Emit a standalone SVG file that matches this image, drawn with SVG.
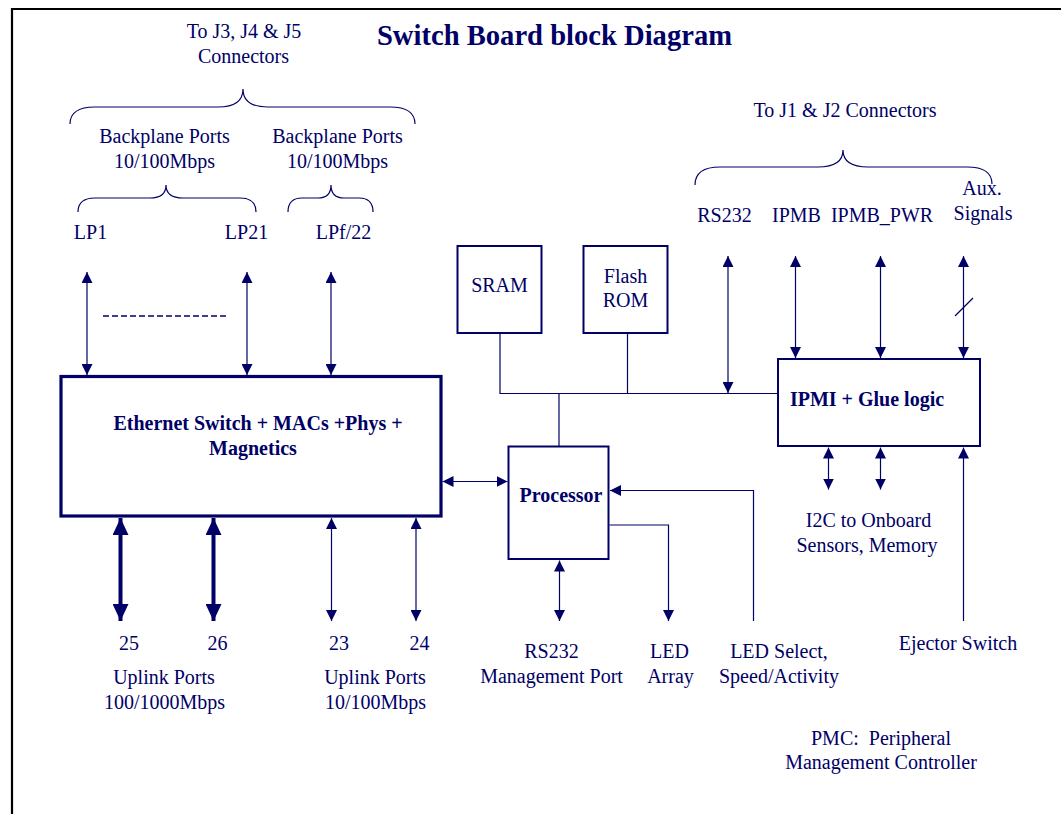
<svg xmlns="http://www.w3.org/2000/svg" width="1061" height="814" viewBox="0 0 1061 814">
<style>
text{font-family:"Liberation Serif","Times New Roman",serif;fill:#000066;font-size:20px;text-anchor:middle}
.b{font-weight:bold}
.t{font-size:28.6px;font-weight:bold}
.pre{white-space:pre}
.box{fill:#fff;stroke:#000066}
.ln{fill:none;stroke:#000066;stroke-width:1.2}
.dbl{marker-start:url(#ah);marker-end:url(#ah)}
.end{marker-end:url(#ah)}
.thick{fill:none;stroke:#000066;stroke-width:4;marker-start:url(#ahb);marker-end:url(#ahb)}
.brace{fill:none;stroke:#000066;stroke-width:1.2}
</style>
<defs>
<marker id="ah" markerUnits="userSpaceOnUse" markerWidth="11" markerHeight="11" refX="11" refY="5.5" orient="auto-start-reverse" viewBox="0 0 11 11">
<path d="M0,0 L11,5.5 L0,11 z" fill="#000066"/>
</marker>
<marker id="ahb" markerUnits="userSpaceOnUse" markerWidth="17" markerHeight="16" refX="17" refY="8" orient="auto-start-reverse" viewBox="0 0 17 16">
<path d="M0,0 L17,8 L0,16 z" fill="#000066"/>
</marker>
</defs>
<rect width="1061" height="814" fill="#fff"/>
<path d="M12,814 L12,9 L1061,9" fill="none" stroke="#000" stroke-width="2.2"/>

<text class="t" x="554.5" y="45">Switch Board block Diagram</text>

<g id="labels-top-left">
<text x="244" y="38">To J3, J4 &amp; J5</text>
<text x="243.5" y="62.5">Connectors</text>
<text x="164.5" y="142.5">Backplane Ports</text>
<text x="164.5" y="167.5">10/100Mbps</text>
<text x="337.5" y="142.5">Backplane Ports</text>
<text x="337.5" y="167.5">10/100Mbps</text>
<text x="90.5" y="239">LP1</text>
<text x="246.5" y="239">LP21</text>
<text x="343.5" y="239">LPf/22</text>
</g>
<g id="braces">
<path class="brace" d="M70,124 Q70,107 95,107 L218,107 Q243,107 243,89 Q243,107 268,107 L390,107 Q415,107 415,124"/>
<path class="brace" d="M78,212 Q78,198 95,198 L150,198 Q166,198 166,185 Q166,198 183,198 L240,198 Q256,198 256,212"/>
<path class="brace" d="M288,212 Q288,198 302,198 L318,198 Q331,198 331,185 Q331,198 344,198 L359,198 Q373,198 373,212"/>
<path class="brace" d="M695,185 Q695,167 720,167 L818,167 Q843,167 843,150 Q843,167 868,167 L967,167 Q992,167 992,184"/>
</g>
<g id="labels-top-right">
<text x="845" y="117">To J1 &amp; J2 Connectors</text>
<text x="724.5" y="221.5">RS232</text>
<text x="796.5" y="221.5">IPMB</text>
<text x="882" y="221.5">IPMB_PWR</text>
<text x="982" y="195">Aux.</text>
<text x="983" y="220">Signals</text>
</g>

<g id="ethernet">
<rect class="box" x="61" y="376.5" width="380" height="139.5" stroke-width="3.2"/>
<text class="b" x="258" y="430">Ethernet Switch + MACs +Phys +</text>
<text class="b" x="253" y="455">Magnetics</text>
</g>
<g id="sram">
<rect class="box" x="457.5" y="246" width="84" height="87" stroke-width="2"/>
<text x="499.5" y="292">SRAM</text>
</g>
<g id="flash">
<rect class="box" x="583.5" y="246" width="84" height="87" stroke-width="2"/>
<text x="625.5" y="283">Flash</text>
<text x="625.5" y="307">ROM</text>
</g>
<g id="processor">
<rect class="box" x="508.5" y="446.5" width="100" height="112.5" stroke-width="2"/>
<text class="b" x="561" y="502">Processor</text>
</g>
<g id="ipmi">
<rect class="box" x="778" y="359" width="202" height="87" stroke-width="2"/>
<text class="b" x="867" y="406">IPMI + Glue logic</text>
</g>

<g id="connectors">
<line class="ln dbl" x1="87" y1="272" x2="87" y2="375"/>
<line class="ln dbl" x1="247" y1="272" x2="247" y2="375"/>
<line class="ln dbl" x1="331" y1="272" x2="331" y2="375"/>
<line x1="103" y1="316" x2="228" y2="316" stroke="#000066" stroke-width="1.4" stroke-dasharray="6,3"/>
<line class="thick" x1="120.5" y1="518" x2="120.5" y2="621"/>
<line class="thick" x1="213.5" y1="518" x2="213.5" y2="621"/>
<line class="ln dbl" x1="331.5" y1="518" x2="331.5" y2="621"/>
<line class="ln dbl" x1="416" y1="518" x2="416" y2="621"/>
<line class="ln dbl" x1="442.5" y1="481.5" x2="507.5" y2="481.5"/>
<polyline class="ln" points="500,333 500,393.5 778,393.5"/>
<line class="ln" x1="627.5" y1="333" x2="627.5" y2="393.5"/>
<line class="ln" x1="559" y1="393.5" x2="559" y2="446"/>
<line class="ln dbl" x1="728" y1="256" x2="728" y2="393"/>
<line class="ln dbl" x1="795.5" y1="256" x2="795.5" y2="358"/>
<line class="ln dbl" x1="880.5" y1="256" x2="880.5" y2="358"/>
<line class="ln dbl" x1="963.5" y1="256" x2="963.5" y2="358"/>
<line class="ln" x1="955" y1="316" x2="973" y2="298"/>
<line class="ln dbl" x1="828.5" y1="447.5" x2="828.5" y2="489.5"/>
<line class="ln dbl" x1="880.5" y1="447.5" x2="880.5" y2="489.5"/>
<line class="ln end" x1="963.5" y1="621" x2="963.5" y2="447.5"/>
<line class="ln dbl" x1="559.5" y1="560.5" x2="559.5" y2="621"/>
<polyline class="ln end" points="609.5,525 668.5,525 668.5,621"/>
<polyline class="ln end" points="753.5,621 753.5,490.5 610,490.5"/>
</g>

<g id="labels-bottom">
<text x="129" y="650">25</text>
<text x="217.5" y="650">26</text>
<text x="339" y="650">23</text>
<text x="419.5" y="650">24</text>
<text x="164" y="683.5">Uplink Ports</text>
<text x="164.5" y="708.5">100/1000Mbps</text>
<text x="375" y="683.5">Uplink Ports</text>
<text x="375.5" y="708.5">10/100Mbps</text>
<text x="551.5" y="658">RS232</text>
<text x="551.5" y="682.5">Management Port</text>
<text x="669.5" y="658">LED</text>
<text x="670.5" y="682.5">Array</text>
<text x="779" y="658">LED Select,</text>
<text x="779" y="682.5">Speed/Activity</text>
<text x="868.5" y="527">I2C to Onboard</text>
<text x="867" y="551.5">Sensors, Memory</text>
<text x="958" y="650">Ejector Switch</text>
<text class="pre" x="881" y="745">PMC:  Peripheral</text>
<text x="881" y="769">Management Controller</text>
</g>
</svg>
